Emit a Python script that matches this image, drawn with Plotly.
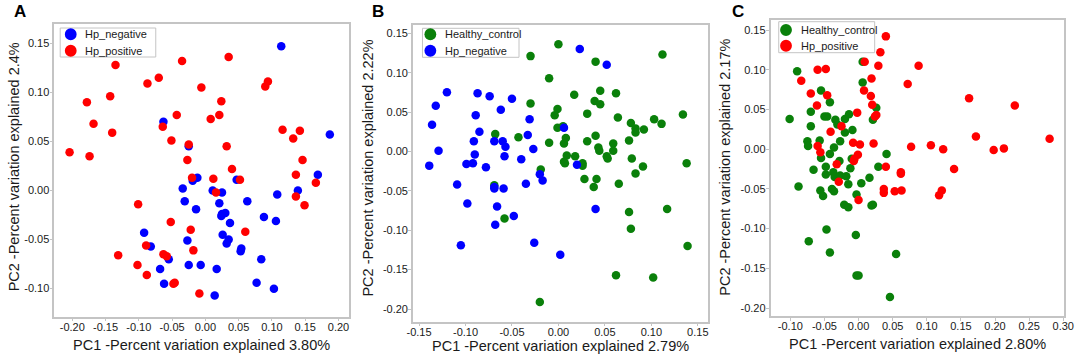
import plotly.graph_objects as go

W, H = 1084, 356

# ---------------- Panel A : Hp_negative vs Hp_positive ----------------
a_neg_x = [-0.063, -0.025, 0.114, 0.187, 0.169, -0.012, -0.019, 0.047, 0.139, 0.108,
           0.063, 0.088, 0.106, -0.034, -0.031, -0.014, 0.011, 0.025, 0.021, 0.024,
           0.030, 0.025, 0.037, 0.026, 0.035, 0.032, 0.054, 0.053, 0.084, 0.077,
           0.103, 0.017, 0.014, -0.007, -0.025, -0.027, -0.092, -0.082, -0.068, -0.055,
           -0.062]
a_neg_y = [0.070, 0.045, 0.147, 0.057, 0.016, 0.013, 0.010, 0.011, 0.000, -0.004,
           -0.011, -0.027, -0.031, 0.002, -0.011, -0.019, 0.000, -0.002, -0.013, -0.026,
           -0.023, -0.024, -0.033, -0.045, -0.050, -0.054, -0.059, -0.062, -0.070, -0.094,
           -0.100, -0.080, -0.107, -0.076, -0.076, -0.051, -0.043, -0.057, -0.080, -0.070,
           -0.095]
a_pos_x = [-0.204, -0.174, -0.178, -0.168, -0.143, -0.140, -0.135, -0.087, -0.070, -0.064,
           -0.051, -0.043, -0.035, -0.025, -0.027, -0.006, 0.008, 0.021, 0.024, 0.032,
           0.035, 0.040, 0.090, 0.094, 0.116, 0.132, 0.142, 0.146, 0.136, -0.020,
           0.012, 0.052, 0.166, 0.136, 0.149, -0.101, 0.016, 0.060, -0.009, -0.018,
           -0.022, -0.052, -0.089, -0.131, -0.102, -0.088, -0.063, -0.058, -0.048, -0.046]
a_pos_y = [0.039, 0.035, 0.090, 0.068, 0.096, 0.059, 0.128, 0.109, 0.115, 0.065,
           0.051, 0.077, 0.132, 0.047, 0.031, 0.105, 0.073, 0.077, 0.091, 0.045,
           0.136, 0.022, 0.106, 0.111, 0.062, 0.053, 0.061, 0.031, 0.016, 0.013,
           0.012, 0.011, 0.008, -0.006, -0.015, -0.014, -0.002, -0.042, -0.105, -0.061,
           -0.040, -0.032, -0.056, -0.066, -0.076, -0.086, -0.065, -0.067, -0.095, -0.094]

# ---------------- Panel B : Healthy_control vs Hp_negative ----------------
b_hc_x = [-0.030, 0.000, 0.040, 0.112, -0.010, 0.017, 0.045, 0.062, 0.039, 0.045,
          -0.030, -0.001, -0.004, 0.031, 0.064, 0.103, 0.134, 0.111, 0.078, 0.083,
          0.083, 0.092, -0.001, 0.005, -0.068, -0.043, -0.010, 0.006, 0.008, 0.031,
          0.040, 0.059, 0.076, 0.043, 0.044, 0.059, 0.009, 0.018, 0.052, 0.053,
          0.079, 0.006, 0.007, 0.026, 0.026, 0.091, 0.138, -0.019, 0.083, 0.028,
          0.041, -0.069, -0.058, 0.038, 0.065, 0.076, 0.078, 0.117, 0.139, 0.062,
          0.102, -0.020]
b_hc_y = [0.121, 0.136, 0.114, 0.123, 0.093, 0.072, 0.077, 0.074, 0.064, 0.060,
          0.061, 0.054, 0.046, 0.048, 0.043, 0.041, 0.047, 0.035, 0.036, 0.029,
          0.024, 0.028, 0.030, 0.032, 0.022, 0.018, 0.011, 0.010, 0.017, 0.013,
          0.020, 0.010, 0.014, 0.005, 0.001, 0.001, -0.005, -0.006, -0.006, -0.009,
          -0.009, -0.013, -0.015, -0.015, -0.018, -0.019, -0.015, -0.023, -0.028, -0.035,
          -0.035, -0.043, -0.085, -0.045, -0.041, -0.077, -0.098, -0.073, -0.120, -0.157,
          -0.160, -0.191]
b_neg_x = [0.023, 0.052, -0.120, -0.087, -0.074, -0.050, -0.132, -0.062, -0.089, -0.031,
           -0.136, -0.085, -0.033, 0.006, -0.129, -0.091, -0.069, -0.060, -0.057, -0.027,
           -0.090, -0.058, -0.040, -0.139, -0.099, -0.092, -0.078, 0.020, -0.020, -0.017,
           -0.109, -0.069, -0.069, -0.059, -0.035, -0.098, -0.066, -0.048, -0.068, -0.105,
           -0.026, 0.002, 0.040]
b_neg_y = [0.130, 0.110, 0.075, 0.074, 0.070, 0.067, 0.058, 0.053, 0.046, 0.041,
           0.034, 0.025, 0.021, 0.030, 0.001, 0.013, 0.013, 0.013, 0.006, 0.003,
           -0.004, -0.006, -0.010, -0.018, -0.016, -0.015, -0.020, -0.017, -0.029, -0.037,
           -0.042, -0.045, -0.047, -0.047, -0.041, -0.066, -0.070, -0.082, -0.093, -0.119,
           -0.116, -0.131, -0.073]

# ---------------- Panel C : Healthy_control vs Hp_positive ----------------
c_hc_x = [-0.090, -0.101, -0.055, -0.070, -0.042, -0.070, -0.050, -0.046, -0.034, -0.031,
          -0.020, -0.014, -0.020, -0.009, 0.006, 0.006, 0.026, 0.021, -0.075, -0.074,
          -0.057, -0.027, -0.036, -0.042, -0.055, -0.028, -0.010, 0.041, -0.066, -0.048,
          -0.012, 0.029, -0.048, -0.037, -0.035, -0.027, -0.018, 0.016, -0.015, 0.004,
          -0.088, -0.056, -0.052, -0.039, -0.036, -0.003, -0.021, -0.015, 0.019, 0.021,
          -0.047, -0.073, -0.004, -0.042, 0.055, -0.003, 0.000, 0.046]
c_hc_y = [0.098, 0.038, 0.074, 0.047, 0.059, 0.029, 0.041, 0.041, 0.037, 0.031,
          0.038, 0.044, 0.021, 0.024, 0.110, 0.084, 0.052, 0.037, 0.010, 0.004,
          0.011, 0.010, 0.002, -0.006, -0.011, -0.015, -0.012, -0.006, -0.026, -0.022,
          -0.024, -0.022, -0.032, -0.029, -0.035, -0.033, -0.034, -0.036, -0.044, -0.043,
          -0.047, -0.052, -0.059, -0.050, -0.053, -0.057, -0.070, -0.073, -0.071, -0.070,
          -0.101, -0.116, -0.108, -0.130, -0.132, -0.159, -0.159, -0.186]
c_pos_x = [0.040, 0.032, 0.009, 0.029, 0.088, -0.060, -0.048, -0.084, 0.019, 0.072,
           -0.070, -0.046, 0.008, 0.018, -0.061, 0.020, 0.162, 0.229, -0.002, 0.026,
           0.024, -0.025, -0.041, 0.172, 0.280, -0.008, 0.002, 0.022, -0.060, -0.056,
           0.077, 0.106, 0.124, 0.198, 0.213, -0.001, -0.007, -0.006, -0.032, 0.040,
           0.140, 0.062, 0.062, -0.029, 0.000, 0.037, 0.037, 0.053, 0.063, 0.118,
           0.122]
c_pos_y = [0.142, 0.122, 0.110, 0.105, 0.105, 0.100, 0.101, 0.086, 0.089, 0.082,
           0.070, 0.068, 0.074, 0.067, 0.055, 0.056, 0.064, 0.055, 0.046, 0.043,
           0.041, 0.029, 0.022, 0.016, 0.013, 0.008, 0.006, 0.007, 0.004, -0.004,
           0.003, 0.005, 0.000, -0.001, 0.001, -0.007, -0.015, -0.012, -0.019, -0.022,
           -0.025, -0.029, -0.031, -0.041, -0.064, -0.050, -0.055, -0.053, -0.052, -0.058,
           -0.052]

# ---------------- tick labels ----------------
a_xticks = [-0.20, -0.15, -0.10, -0.05, 0.00, 0.05, 0.10, 0.15, 0.20]
a_xlabels = ["-0.20", "-0.15", "-0.10", "-0.05", "0.00", "0.05", "0.10", "0.15", "0.20"]
a_yticks = [-0.10, -0.05, 0.00, 0.05, 0.10, 0.15]
a_ylabels = ["-0.10", "-0.05", "0.00", "0.05", "0.10", "0.15"]
b_xticks = [-0.15, -0.10, -0.05, 0.00, 0.05, 0.10, 0.15]
b_xlabels = ["-0.15", "-0.10", "-0.05", "0.00", "0.05", "0.10", "0.15"]
bc_yticks = [-0.20, -0.15, -0.10, -0.05, 0.00, 0.05, 0.10, 0.15]
bc_ylabels = ["-0.20", "-0.15", "-0.10", "-0.05", "0.00", "0.05", "0.10", "0.15"]
c_xticks = [-0.10, -0.05, 0.00, 0.05, 0.10, 0.15, 0.20, 0.25, 0.30]
c_xlabels = ["-0.10", "-0.05", "0.00", "0.05", "0.10", "0.15", "0.20", "0.25", "0.30"]

x_titles = ["PC1 -Percent variation explained 3.80%",
            "PC1 -Percent variation explained 2.79%",
            "PC1 -Percent variation explained 2.80%"]
y_titles = ["PC2 -Percent variation explained 2.4%",
            "PC2 -Percent variation explained 2.22%",
            "PC2 -Percent variation explained 2.17%"]
panel_letters = ["A", "B", "C"]

BLUE, RED, GREEN = "#0000ff", "#ff0000", "#0a800a"
FONT = "Liberation Sans, Arial, sans-serif"
LINE = "#c4c4c4"
TXT = "#1a1a1a"

panels = [
    [(a_neg_x, a_neg_y, BLUE, "Hp_negative"), (a_pos_x, a_pos_y, RED, "Hp_positive")],
    [(b_hc_x, b_hc_y, GREEN, "Healthy_control"), (b_neg_x, b_neg_y, BLUE, "Hp_negative")],
    [(c_hc_x, c_hc_y, GREEN, "Healthy_control"), (c_pos_x, c_pos_y, RED, "Hp_positive")],
]

px = lambda v: v / W
py = lambda v: 1 - v / H

# panel frames in pixels: (left, top, right, bottom)
frames = [(49, 24.3, 348, 316.7), (413, 25, 713, 321.7), (776, 20, 1074, 316)]
xranges = [[-0.227, 0.2156], [-0.1566, 0.1615], [-0.129, 0.3013]]
yranges = [[-0.1286, 0.1694], [-0.2161, 0.1605], [-0.210, 0.1626]]
xt = [(a_xticks, a_xlabels), (b_xticks, b_xlabels), (c_xticks, c_xlabels)]
yt = [(a_yticks, a_ylabels), (bc_yticks, bc_ylabels), (bc_yticks, bc_ylabels)]

fig = go.Figure()
for i, series in enumerate(panels):
    sfx = "" if i == 0 else str(i + 1)
    for x, y, color, name in series:
        fig.add_trace(go.Scatter(x=x, y=y, mode="markers", name=name,
                                 marker=dict(color=color, size=8.5, line=dict(width=0)),
                                 xaxis="x" + sfx, yaxis="y" + sfx, showlegend=False))

def axis(domain, rng, tv, tt, anchor, standoff):
    return dict(domain=domain, range=rng, tickvals=tv, ticktext=tt, anchor=anchor,
                showline=True, mirror=True, linecolor=LINE, linewidth=1.5,
                ticks="outside", ticklen=3, tickcolor=LINE, tickwidth=1,
                ticklabelstandoff=standoff,
                showgrid=False, zeroline=False, fixedrange=True,
                tickfont=dict(family=FONT, size=11, color=TXT))

layout = dict(width=W, height=H, margin=dict(l=0, r=0, t=0, b=0),
              paper_bgcolor="white", plot_bgcolor="white", showlegend=False,
              font=dict(family=FONT, color=TXT), hovermode="closest")
for i in range(3):
    l, t, r, b = frames[i]
    sfx = "" if i == 0 else str(i + 1)
    layout["xaxis" + sfx] = axis([px(l), px(r)], xranges[i], *xt[i], "y" + sfx, -4)
    layout["yaxis" + sfx] = axis([py(b), py(t)], yranges[i], *yt[i], "x" + sfx, -2)
fig.update_layout(**layout)

# ---- legends (box, symbols, labels) drawn in pixel positions ----
legend_boxes = [(55, 28, 152, 57), (422.7, 28.3, 520.7, 57.3), (784.3, 21.7, 881.7, 52.7)]
legend_sym_x = [65.7, 430.7, 791.7]
legend_rows = [(34.3, 50.7), (34.3, 50.7), (30.0, 45.7)]
legend_text_x = [78.3, 443.3, 805]
R = 6
for i, series in enumerate(panels):
    x0, y0, x1, y1 = legend_boxes[i]
    fig.add_shape(type="rect", xref="paper", yref="paper", x0=px(x0), x1=px(x1),
                  y0=py(y1), y1=py(y0), line=dict(color=LINE, width=1), fillcolor="white")
    for j, (_, _, color, name) in enumerate(series):
        cy = legend_rows[i][j]
        cx = legend_sym_x[i]
        fig.add_shape(type="circle", xref="paper", yref="paper",
                      x0=px(cx - R), x1=px(cx + R), y0=py(cy + R), y1=py(cy - R),
                      line=dict(width=0), fillcolor=color)
        fig.add_annotation(x=px(legend_text_x[i]), y=py(cy), xref="paper", yref="paper",
                           text=name, showarrow=False, xanchor="left", yanchor="middle",
                           font=dict(family=FONT, size=11, color=TXT))

ytitle_x = [8.5, 367, 729]
ytitle_y = [167, 168, 167.5]
xtitle_y = [345, 346, 344]
letter_pos = [(14, 12), (378, 12), (743, 12)]
for i in range(3):
    l, t, r, b = frames[i]
    fig.add_annotation(x=px((l + r) / 2), y=py(xtitle_y[i]), xref="paper", yref="paper",
                       text=x_titles[i], showarrow=False, xanchor="center", yanchor="middle",
                       font=dict(family=FONT, size=14.5, color=TXT))
    fig.add_annotation(x=px(ytitle_x[i]), y=py(ytitle_y[i]), xref="paper", yref="paper",
                       text=y_titles[i], showarrow=False, textangle=-90,
                       xanchor="center", yanchor="middle",
                       font=dict(family=FONT, size=14.5, color=TXT))
    fig.add_annotation(x=px(letter_pos[i][0]), y=py(letter_pos[i][1]), xref="paper",
                       yref="paper", text="<b>" + panel_letters[i] + "</b>", showarrow=False,
                       xanchor="center", yanchor="middle",
                       font=dict(family=FONT, size=17, color="#000000"))

fig.write_html("out.html", config={"displayModeBar": False, "staticPlot": False},
               post_script="document.body.style.margin='0px';"
                           "document.body.style.overflow='hidden';")
